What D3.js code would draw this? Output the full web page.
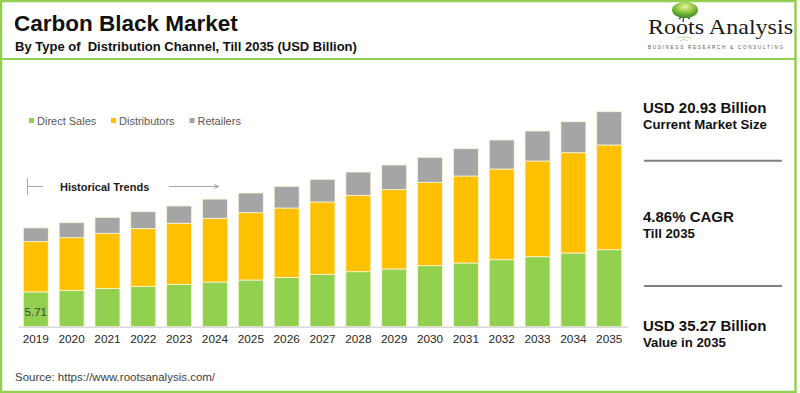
<!DOCTYPE html>
<html>
<head>
<meta charset="utf-8">
<script src="https://cdn.jsdelivr.net/npm/d3@7"></script>
<style>
  body { margin: 0; background: #fff; }
  svg { display: block; font-family: "Liberation Sans", Arial, sans-serif; }
</style>
</head>
<body>
<div id="chart"></div>
<script>
// values (USD billion)
var years = ["2019","2020","2021","2022","2023","2024","2025","2026","2027","2028","2029","2030","2031","2032","2033","2034","2035"];
var directSales  = [5.71, 5.97, 6.30, 6.63, 6.96, 7.33, 7.66, 8.10, 8.60, 9.02, 9.47, 10.01, 10.45, 10.99, 11.48, 12.09, 12.63];
var distributors = [8.25, 8.63, 9.02, 9.45, 10.01, 10.45, 11.04, 11.37, 11.86, 12.53, 13.01, 13.68, 14.27, 14.88, 15.70, 16.45, 17.18];
var retailers    = [2.25, 2.46, 2.62, 2.79, 2.84, 3.15, 3.23, 3.56, 3.72, 3.82, 4.05, 4.10, 4.48, 4.76, 4.92, 5.09, 5.46];
var seriesNames  = ["Direct Sales", "Distributors", "Retailers"];
var seriesColors = ["#92d050", "#ffc000", "#a5a5a5"];
var stats = [
  {big: "USD 20.93 Billion", small: "Current Market Size"},
  {big: "4.86% CAGR", small: "Till 2035"},
  {big: "USD 35.27 Billion", small: "Value in 2035"}
];

var width = 800, height = 393;
var svg = d3.select("#chart").append("svg")
  .attr("width", width).attr("height", height);

// frame + header rule
svg.append("rect").attr("x", 1).attr("y", 1).attr("width", 794.5).attr("height", 391)
  .attr("fill", "none").attr("stroke", "#92d050").attr("stroke-width", 2.5);
svg.append("line").attr("x1", 2).attr("x2", 795).attr("y1", 59).attr("y2", 59)
  .attr("stroke", "#92d050").attr("stroke-width", 2);

// titles
svg.append("text").attr("x", 14).attr("y", 31)
  .style("font-size", "22.5px").style("font-weight", "bold").attr("fill", "#111")
  .text("Carbon Black Market");
svg.append("text").attr("x", 15).attr("y", 51)
  .style("font-size", "13px").style("font-weight", "bold").style("white-space", "pre").attr("fill", "#111")
  .text("By Type of  Distribution Channel, Till 2035 (USD Billion)");

// logo
var defs = svg.append("defs");
var grad = defs.append("radialGradient").attr("id", "canopy").attr("cx", "50%").attr("cy", "30%").attr("r", "65%");
grad.append("stop").attr("offset", "0%").attr("stop-color", "#e8f3a0");
grad.append("stop").attr("offset", "55%").attr("stop-color", "#8cc63f");
grad.append("stop").attr("offset", "100%").attr("stop-color", "#3f8f2a");
var logo = svg.append("g");
logo.append("path").attr("d", "M684,14 L683,22 M684,15 L679,19 M684,15 L690,19")
  .attr("stroke", "#2f4f2f").attr("stroke-width", 1.3).attr("fill", "none");
logo.append("ellipse").attr("cx", 685).attr("cy", 10).attr("rx", 13).attr("ry", 8)
  .attr("fill", "url(#canopy)");
logo.append("path").attr("d", "M676,38 Q684,36 692,38 M680,41 Q684,38 688,41")
  .attr("stroke", "#b8d8a0").attr("stroke-width", 0.8).attr("fill", "none");
logo.append("text").attr("x", 648).attr("y", 34).attr("textLength", 145).attr("lengthAdjust", "spacingAndGlyphs")
  .style("font-family", "'Liberation Serif', 'Times New Roman', serif").style("font-size", "22px")
  .attr("fill", "#1a1a1a").text("Roots Analysis");
logo.append("text").attr("x", 648).attr("y", 49).attr("textLength", 135).attr("lengthAdjust", "spacing")
  .style("font-size", "4.6px").attr("fill", "#555").text("BUSINESS RESEARCH & CONSULTING");

// scales
var x = d3.scaleBand().domain(years).range([17.9, 627.1]).paddingInner(0.3025).paddingOuter(0.15);
var y = d3.scaleLinear().domain([0, 40]).range([326.7, 326.7 - 40 * 6.096]);

var table = years.map(function(yr, i) {
  return {year: yr, "Direct Sales": directSales[i], "Distributors": distributors[i], "Retailers": retailers[i]};
});
var stacked = d3.stack().keys(seriesNames)(table);

svg.append("g").selectAll("g")
  .data(stacked).enter().append("g")
    .attr("fill", function(d, i) { return seriesColors[i]; })
  .selectAll("rect")
  .data(function(d) { return d; })
  .enter().append("rect")
    .attr("x", function(d) { return x(d.data.year); })
    .attr("y", function(d) { return y(d[1]); })
    .attr("width", x.bandwidth())
    .attr("height", function(d) { return y(d[0]) - y(d[1]); })
    .attr("stroke", "#fdf6d8").attr("stroke-width", 0.8);

// x axis
var xAxis = svg.append("g").attr("transform", "translate(0," + y(0) + ")")
  .call(d3.axisBottom(x).tickSize(0).tickPadding(8));
xAxis.select(".domain").attr("stroke", "#d9d9d9").attr("stroke-width", 1.5);
xAxis.selectAll("text").style("font-size", "11.8px").style("font-family", "'Liberation Sans', Arial, sans-serif").attr("fill", "#262626");

// first value label
svg.append("text")
  .attr("x", x(years[0]) + x.bandwidth() / 2).attr("y", 316)
  .attr("text-anchor", "middle").style("font-size", "11.5px").attr("fill", "#404040")
  .text(directSales[0].toFixed(2));

// legend
var legend = svg.append("g").selectAll("g").data(seriesNames).enter().append("g")
  .attr("transform", function(d, i) { return "translate(" + [29, 111, 189.5][i] + ",118)"; });
legend.append("rect").attr("width", 5).attr("height", 5)
  .attr("fill", function(d, i) { return seriesColors[i]; });
legend.append("text").attr("x", 8).attr("y", 6.5)
  .style("font-size", "11px").attr("fill", "#595959")
  .text(function(d) { return d; });

// historical trends marker
var hist = svg.append("g").attr("stroke", "#a6a6a6").attr("stroke-width", 1);
hist.append("line").attr("x1", 27.5).attr("x2", 27.5).attr("y1", 178).attr("y2", 195);
hist.append("line").attr("x1", 27.5).attr("x2", 43).attr("y1", 186.5).attr("y2", 186.5);
hist.append("line").attr("x1", 169).attr("x2", 218).attr("y1", 186.5).attr("y2", 186.5);
hist.append("path").attr("d", "M214,184.5 L219,186.5 L214,188.5").attr("fill", "none");
svg.append("text").attr("x", 60).attr("y", 190.5)
  .style("font-size", "11px").style("font-weight", "bold").attr("fill", "#1a1a1a")
  .text("Historical Trends");

// key stats on the right
var statY = [113, 221.5, 330.5];
var panel = svg.append("g").selectAll("g").data(stats).enter().append("g")
  .attr("transform", function(d, i) { return "translate(643," + statY[i] + ")"; });
panel.append("text").style("font-size", "15px").style("font-weight", "bold").attr("fill", "#111")
  .text(function(d) { return d.big; });
panel.append("text").attr("y", 16).style("font-size", "13.2px").style("font-weight", "bold").attr("fill", "#111")
  .text(function(d) { return d.small; });
svg.append("g").selectAll("line").data([160.7, 286]).enter().append("line")
  .attr("x1", 644).attr("x2", 782).attr("y1", function(d) { return d; }).attr("y2", function(d) { return d; })
  .attr("stroke", "#7f7f7f").attr("stroke-width", 2);

// source
svg.append("text").attr("x", 15).attr("y", 381)
  .style("font-size", "11.5px").attr("fill", "#404040")
  .text("Source: https://www.rootsanalysis.com/");
</script>
</body>
</html>
